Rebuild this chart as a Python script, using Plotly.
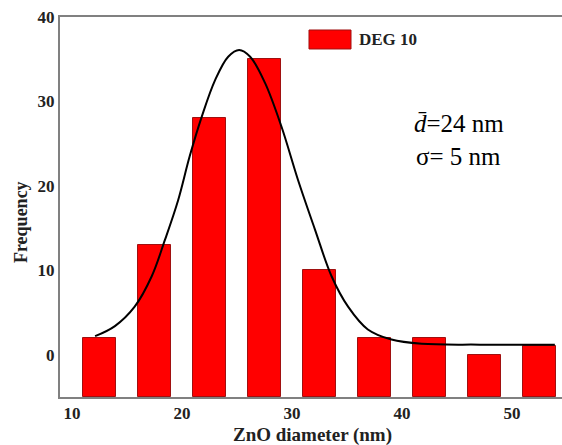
import plotly.graph_objects as go

# ---- data ----
bin_centers = [12.5, 17.5, 22.5, 27.5, 32.5, 37.5, 42.5, 47.5, 52.5]
frequency = [2, 13, 28, 35, 10, 2, 2, 0, 1]

fit_x = [12.1, 13.9, 15.7, 17.25, 18.45, 19.65, 20.7, 21.8, 23.0, 24.2, 25.2,
         26.2, 27.55, 29.05, 30.55, 32.1, 33.6, 35.1, 36.9, 39.05, 41.8, 47.1, 53.9]
fit_y = [2.2, 3.4, 5.7, 9.3, 13.6, 18.3, 23.5, 28.2, 32.5, 35.3, 36.1,
         35.3, 32.2, 27.0, 20.7, 14.8, 9.3, 5.7, 3.0, 1.8, 1.3, 1.2, 1.2]

x_ticks = [10, 20, 30, 40, 50]
y_ticks = [0, 10, 20, 30, 40]
X_RANGE = [8.91, 54.55]
Y_MIN, Y_MAX = -5, 40

series_name = "DEG 10"
mean_label = "<i>d\u0304</i>=24 nm"
sigma_label = "\u03c3= 5 nm"

FONT = "Liberation Serif"

fig = go.Figure()
fig.add_trace(go.Bar(
    x=bin_centers,
    y=[v - Y_MIN for v in frequency],
    base=Y_MIN,
    width=3,
    marker=dict(color="#ff0000", line=dict(color="#a01010", width=1)),
    name=series_name,
    showlegend=False,
))
fig.add_trace(go.Scatter(
    x=fit_x, y=fit_y, mode="lines",
    line=dict(color="black", width=2, shape="spline", smoothing=1.0),
    showlegend=False,
))

fig.update_layout(
    width=562, height=445,
    margin=dict(l=60, r=0, t=17, b=48),
    paper_bgcolor="white", plot_bgcolor="white",
    bargap=0,
    xaxis=dict(range=X_RANGE, tickvals=x_ticks, ticks="", showgrid=False, zeroline=False,
               showline=True, linecolor="#808080", linewidth=2, mirror=True,
               tickfont=dict(family=FONT, size=17, color="#222", weight="bold")),
    yaxis=dict(range=[Y_MIN, Y_MAX], tickvals=y_ticks, ticks="", showgrid=False, zeroline=False,
               showline=True, linecolor="#808080", linewidth=2,
               tickfont=dict(family=FONT, size=17, color="#222", weight="bold")),
    shapes=[dict(type="rect", xref="paper", yref="paper",
                 x0=0.496, x1=0.5797, y0=0.9158, y1=0.9658,
                 fillcolor="#ff0000", line=dict(color="#a01010", width=1))],
    annotations=[
        dict(text=series_name, xref="paper", yref="paper", x=0.5916, y=0.942,
             xanchor="left", yanchor="middle", showarrow=False,
             font=dict(family=FONT, size=17, color="#222", weight="bold")),
        dict(text=mean_label, xref="paper", yref="paper", x=0.794, y=0.721,
             xanchor="center", yanchor="middle", showarrow=False,
             font=dict(family=FONT, size=25, color="black")),
        dict(text=sigma_label, xref="paper", yref="paper", x=0.794, y=0.6316,
             xanchor="center", yanchor="middle", showarrow=False,
             font=dict(family=FONT, size=25, color="black")),
        dict(text="Frequency", xref="paper", yref="paper", x=-0.078, y=0.46,
             xanchor="center", yanchor="middle", textangle=-90, showarrow=False,
             font=dict(family=FONT, size=18, color="#222", weight="bold")),
        dict(text="ZnO diameter (nm)", xref="paper", yref="paper", x=0.502, y=-0.1,
             xanchor="center", yanchor="middle", showarrow=False,
             font=dict(family=FONT, size=19, color="#222", weight="bold")),
    ],
)

fig.write_html(
    "out.html",
    config={"displayModeBar": False},
    post_script="document.body.style.margin='0';document.body.style.overflow='hidden';",
)
